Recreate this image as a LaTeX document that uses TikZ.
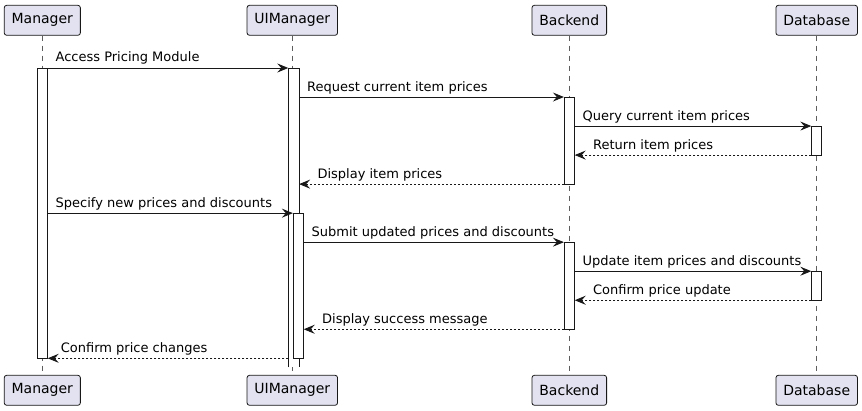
\documentclass[tikz,border=0pt]{standalone}
\usepackage{fontspec}
\setmainfont{DejaVu Sans}
\usetikzlibrary{arrows.meta}
\definecolor{partfill}{HTML}{E2E2F0}
\definecolor{umlline}{HTML}{181818}
\tikzset{>={Stealth[length=11pt,width=9pt,inset=4pt]}}
\tikzset{
  part/.style={draw=umlline,line width=0.8,fill=partfill,rounded corners=2.5pt,
    minimum height=30pt,inner xsep=7.4pt,font=\fontsize{14}{16}\selectfont},
  life/.style={umlline!70,line width=0.7,dash pattern=on 5pt off 5pt},
  act/.style={draw=umlline,line width=0.8,fill=white,minimum width=10pt,
    inner sep=0pt,anchor=north},
  msg/.style={->,umlline,line width=0.9},
  reply/.style={msg,dash pattern=on 2pt off 2pt},
  lbl/.style={black,anchor=base west,inner sep=0pt,yshift=6pt,
    font=\fontsize{13}{15}\selectfont}
}

\begin{document}
\begin{tikzpicture}[x=1pt,y=-1pt]
  \useasboundingbox (0,0) rectangle (862,411);

  % Participants
  \node[part] (man) at (42.3, 20.3) {Manager};
  \node[part] (ui) at (292.3, 20.3) {UIManager};
  \node[part] (be) at (569.3, 20.3) {Backend};
  \node[part] (db) at (816.7, 20.3) {Database};
  \node[part] (manB) at (42.3, 390.3) {Manager};
  \node[part] (uiB) at (292.3, 390.3) {UIManager};
  \node[part] (beB) at (569.3, 390.3) {Backend};
  \node[part] (dbB) at (816.7, 390.3) {Database};

  % Lifelines
  \draw[life] (man) -- (manB);
  \draw[life] (ui) -- (uiB);
  \draw[life] (be) -- (beB);
  \draw[life] (db) -- (dbB);

  % Message rows
  \foreach \i in {1,...,11}
    \coordinate (r\i) at (0, {68 + 29.03*(\i-1)});

  % Activations
  \node[act, minimum height=290.3pt] (mA) at (42.3, 68) {};
  \node[act, draw=none, minimum height=298.7pt] (uA) at (293.7, 68) {};
  \draw[umlline,line width=0.8] (uA.south west) -- (uA.north west)
    -- (uA.north east) -- (uA.south east);
  \node[act, minimum height=145.1pt] (uB) at (298.3, 213.2) {};
  \node[act, minimum height=87.1pt] (bA) at (569.3, 97) {};
  \node[act, minimum height=29pt] (dA) at (816.7, 126.1) {};
  \node[act, minimum height=87.1pt] (bB) at (569.3, 242.2) {};
  \node[act, minimum height=29pt] (dB) at (816.7, 271.2) {};

  % Messages
  \draw[msg] (mA.east |- r1) -- node[lbl, pos=0, xshift=7.5pt] (m1) {Access Pricing Module} (uA.west |- r1);
  \draw[msg] (uA.east |- r2) -- node[lbl, pos=0, xshift=7.5pt] (m2) {Request current item prices} (bA.west |- r2);
  \draw[msg] (bA.east |- r3) -- node[lbl, pos=0, xshift=7.5pt] (m3) {Query current item prices} (dA.west |- r3);
  \draw[reply] (dA.west |- r4) -- node[lbl, pos=1, xshift=18pt] (m4) {Return item prices} (bA.east |- r4);
  \draw[reply] (bA.west |- r5) -- node[lbl, pos=1, xshift=18pt] (m5) {Display item prices} (uA.east |- r5);
  \draw[msg] (mA.east |- r6) -- node[lbl, pos=0, xshift=7.5pt] (m6) {Specify new prices and discounts} (uB.west |- r6);
  \draw[msg] (uB.east |- r7) -- node[lbl, pos=0, xshift=7.5pt] (m7) {Submit updated prices and discounts} (bB.west |- r7);
  \draw[msg] (bB.east |- r8) -- node[lbl, pos=0, xshift=7.5pt] (m8) {Update item prices and discounts} (dB.west |- r8);
  \draw[reply] (dB.west |- r9) -- node[lbl, pos=1, xshift=18pt] (m9) {Confirm price update} (bB.east |- r9);
  \draw[reply] (bB.west |- r10) -- node[lbl, pos=1, xshift=18pt] (m10) {Display success message} (uB.east |- r10);
  \draw[reply] (uA.west |- r11) -- node[lbl, pos=1, xshift=12.7pt] (m11) {Confirm price changes} (mA.east |- r11);
\end{tikzpicture}
\end{document}
